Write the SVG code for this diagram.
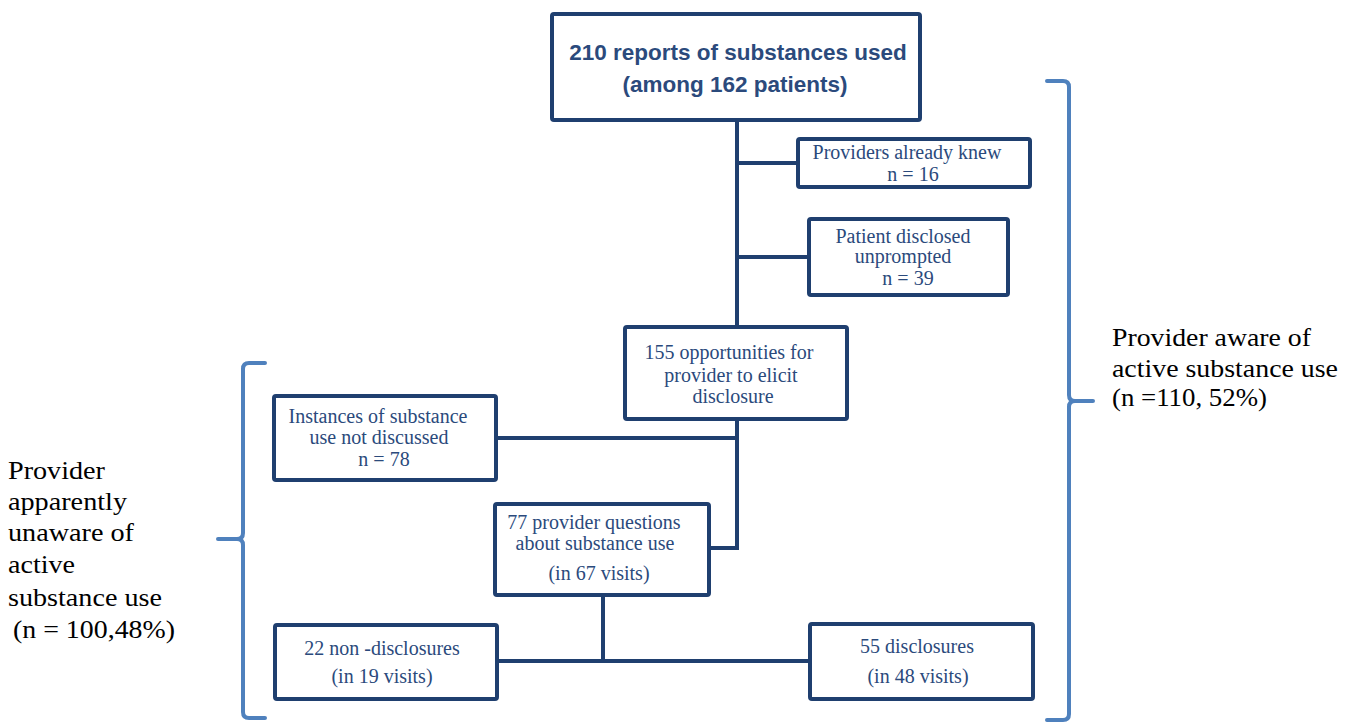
<svg xmlns="http://www.w3.org/2000/svg" width="1355" height="725" viewBox="0 0 1355 725">
<style>
.box{fill:#fff;stroke:#1f3f6f;stroke-width:4;}
.t{font-family:"Liberation Serif","Times New Roman",serif;font-size:20px;fill:#2b4a7c;text-anchor:middle;}
.tb{font-family:"Liberation Sans",Arial,sans-serif;font-size:22.5px;font-weight:bold;fill:#2b4a7c;text-anchor:middle;}
.side{font-family:"Liberation Serif","Times New Roman",serif;font-size:25px;fill:#000;}
.conn{fill:none;stroke:#1f3f6f;stroke-width:4;}
.brace{fill:none;stroke:#4f81bd;stroke-width:4;stroke-linecap:round;stroke-linejoin:round;}
</style>
<rect width="1355" height="725" fill="#fff"/>
<g id="connectors">
<path class="conn" d="M737,122 V325 M737,421 V550 M737,163 H796 M737,257 H807 M498,438 H737 M711,548 H737 M603,597 V663 M499,661 H808"/>
</g>
<g id="top">
<rect class="box" x="552" y="14" width="368" height="106" rx="2"/>
<text class="tb" x="738" y="60">210 reports of substances used</text>
<text class="tb" x="735" y="92">(among 162 patients)</text>
</g>
<g id="knew">
<rect class="box" x="798" y="139" width="232" height="48" rx="2"/>
<text class="t" x="907" y="159">Providers already knew</text>
<text class="t" x="913" y="181">n = 16</text>
</g>
<g id="unprompted">
<rect class="box" x="809" y="219" width="199" height="76" rx="2"/>
<text class="t" x="903" y="243">Patient disclosed</text>
<text class="t" x="903" y="263">unprompted</text>
<text class="t" x="908" y="285">n = 39</text>
</g>
<g id="opportunities">
<rect class="box" x="625" y="327" width="222" height="92" rx="2"/>
<text class="t" x="729" y="359">155 opportunities for</text>
<text class="t" x="731" y="382">provider to elicit</text>
<text class="t" x="733" y="403">disclosure</text>
</g>
<g id="notdiscussed">
<rect class="box" x="274" y="396" width="222" height="84" rx="2"/>
<text class="t" x="378" y="423">Instances of substance</text>
<text class="t" x="379" y="444">use not discussed</text>
<text class="t" x="384" y="466">n = 78</text>
</g>
<g id="questions">
<rect class="box" x="495" y="504" width="214" height="91" rx="2"/>
<text class="t" x="594" y="529">77 provider questions</text>
<text class="t" x="595" y="550">about substance use</text>
<text class="t" x="599" y="580">(in 67 visits)</text>
</g>
<g id="nondisclosures">
<rect class="box" x="275" y="625" width="222" height="74" rx="2"/>
<text class="t" x="382" y="655">22 non -disclosures</text>
<text class="t" x="382" y="683">(in 19 visits)</text>
</g>
<g id="disclosures">
<rect class="box" x="810" y="624" width="223" height="75" rx="2"/>
<text class="t" x="917" y="653">55 disclosures</text>
<text class="t" x="918" y="683">(in 48 visits)</text>
</g>
<g id="aware">
<path class="brace" d="M1047,81 H1063 Q1069,81 1069,87 V395 Q1069,401 1075,401 H1093 M1075,401 Q1069,401 1069,407 V714 Q1069,720 1063,720 H1047"/>
<text class="side" x="1112" y="346" textLength="199" lengthAdjust="spacingAndGlyphs">Provider aware of</text>
<text class="side" x="1112" y="377" textLength="226" lengthAdjust="spacingAndGlyphs">active substance use</text>
<text class="side" x="1112" y="406" textLength="155" lengthAdjust="spacingAndGlyphs">(n =110, 52%)</text>
</g>
<g id="unaware">
<path class="brace" d="M265,363 H249 Q243,363 243,369 V533 Q243,539 237,539 H218 M237,539 Q243,539 243,545 V712 Q243,718 249,718 H265"/>
<text class="side" x="8" y="479" textLength="97" lengthAdjust="spacingAndGlyphs">Provider</text>
<text class="side" x="8" y="510" textLength="119" lengthAdjust="spacingAndGlyphs">apparently</text>
<text class="side" x="8" y="541" textLength="126" lengthAdjust="spacingAndGlyphs">unaware of</text>
<text class="side" x="8" y="573" textLength="67" lengthAdjust="spacingAndGlyphs">active</text>
<text class="side" x="8" y="606" textLength="154" lengthAdjust="spacingAndGlyphs">substance use</text>
<text class="side" x="13" y="638" textLength="162" lengthAdjust="spacingAndGlyphs">(n = 100,48%)</text>
</g>
</svg>
